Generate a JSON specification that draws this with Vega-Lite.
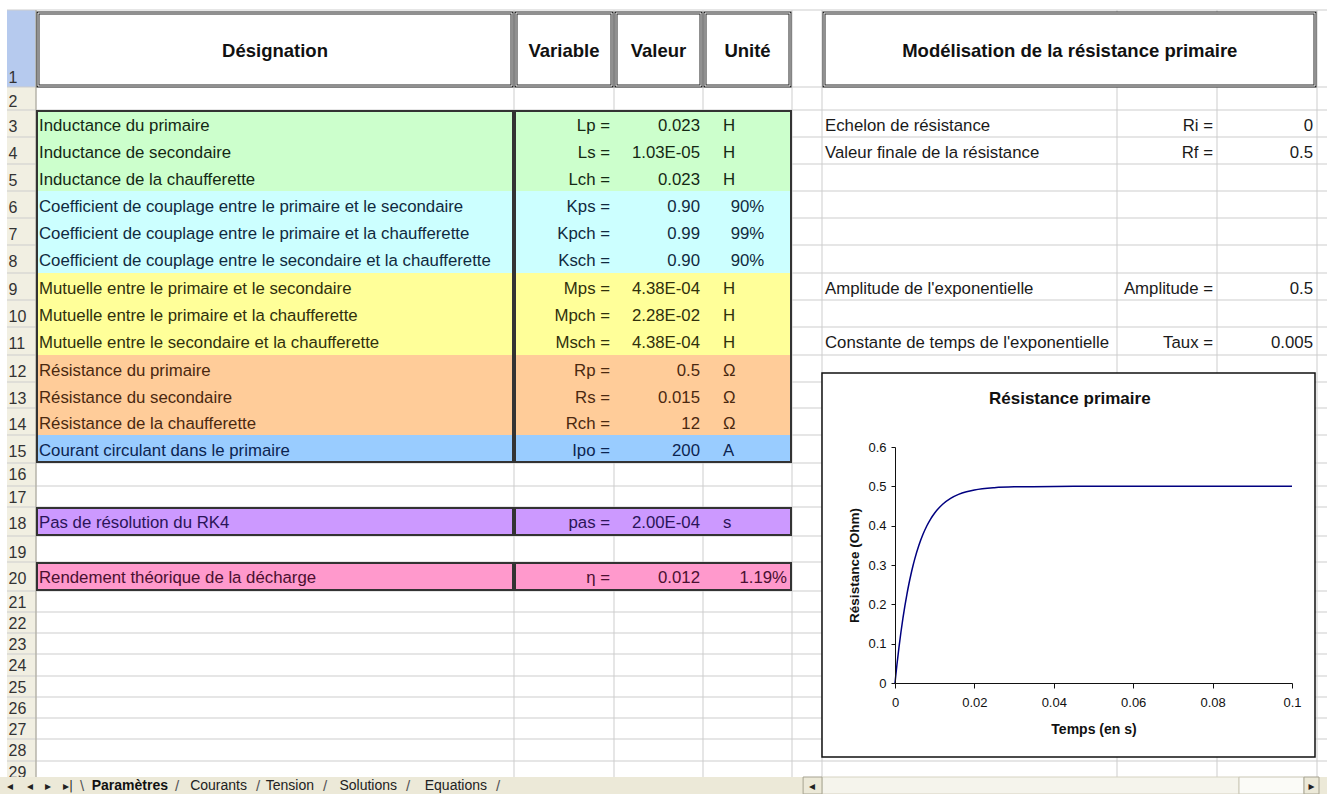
{
"$schema":"https://vega.github.io/schema/vega-lite/v6.json",
"width":1327,"height":794,"autosize":"none","padding":0,"background":"white",
"config":{"view":{"stroke":null},"font":"Liberation Sans"},
"datasets":{
"sheetrows":[{"row":1},{"row":2},{"row":3},{"row":4},{"row":5},{"row":6},{"row":7},{"row":8},{"row":9},{"row":10},{"row":11},{"row":12},{"row":13},{"row":14},{"row":15},{"row":16},{"row":17},{"row":18},{"row":19},{"row":20},{"row":21},{"row":22},{"row":23},{"row":24},{"row":25},{"row":26},{"row":27},{"row":28},{"row":29}],
"columns":[{"c":1,"name":"A"},{"c":2,"name":"B"},{"c":3,"name":"C"},{"c":4,"name":"D"},{"c":5,"name":"E"},{"c":6,"name":"F"},{"c":7,"name":"G"},{"c":8,"name":"H"},{"c":9,"name":"I"}],
"fills":[{"group":"Inductances","top":3,"bottom":6},{"group":"Couplages","top":6,"bottom":9},{"group":"Mutuelles","top":9,"bottom":12},{"group":"Résistances","top":12,"bottom":15},{"group":"Courant","top":15,"bottom":16},{"group":"Pas","top":18,"bottom":19},{"group":"Rendement","top":20,"bottom":21}],
"boxes":[{"c0":1,"c1":2,"top":3,"bottom":16},{"c0":2,"c1":5,"top":3,"bottom":16},{"c0":1,"c1":2,"top":18,"bottom":19},{"c0":2,"c1":5,"top":18,"bottom":19},{"c0":1,"c1":2,"top":20,"bottom":21},{"c0":2,"c1":5,"top":20,"bottom":21}],
"headers":[{"c0":1,"c1":2,"mid":1.5,"text":"Désignation"},{"c0":2,"c1":3,"mid":2.5,"text":"Variable"},{"c0":3,"c1":4,"mid":3.5,"text":"Valeur"},{"c0":4,"c1":5,"mid":4.5,"text":"Unité"},{"c0":6,"c1":9,"mid":6.84,"text":"Modélisation de la résistance primaire"}],
"table":[
{"row":3,"group":"Inductances","designation":"Inductance du primaire","variable":"Lp =","valeur":"0.023","unite":"H"},
{"row":4,"group":"Inductances","designation":"Inductance de secondaire","variable":"Ls =","valeur":"1.03E-05","unite":"H"},
{"row":5,"group":"Inductances","designation":"Inductance de la chaufferette","variable":"Lch =","valeur":"0.023","unite":"H"},
{"row":6,"group":"Couplages","designation":"Coefficient de couplage entre le primaire et le secondaire","variable":"Kps =","valeur":"0.90","pourcentage":"90%"},
{"row":7,"group":"Couplages","designation":"Coefficient de couplage entre le primaire et la chaufferette","variable":"Kpch =","valeur":"0.99","pourcentage":"99%"},
{"row":8,"group":"Couplages","designation":"Coefficient de couplage entre le secondaire et la chaufferette","variable":"Ksch =","valeur":"0.90","pourcentage":"90%"},
{"row":9,"group":"Mutuelles","designation":"Mutuelle entre le primaire et le secondaire","variable":"Mps =","valeur":"4.38E-04","unite":"H"},
{"row":10,"group":"Mutuelles","designation":"Mutuelle entre le primaire et la chaufferette","variable":"Mpch =","valeur":"2.28E-02","unite":"H"},
{"row":11,"group":"Mutuelles","designation":"Mutuelle entre le secondaire et la chaufferette","variable":"Msch =","valeur":"4.38E-04","unite":"H"},
{"row":12,"group":"Résistances","designation":"Résistance du primaire","variable":"Rp =","valeur":"0.5","unite":"Ω"},
{"row":13,"group":"Résistances","designation":"Résistance du secondaire","variable":"Rs =","valeur":"0.015","unite":"Ω"},
{"row":14,"group":"Résistances","designation":"Résistance de la chaufferette","variable":"Rch =","valeur":"12","unite":"Ω"},
{"row":15,"group":"Courant","designation":"Courant circulant dans le primaire","variable":"Ipo =","valeur":"200","unite":"A"},
{"row":18,"group":"Pas","designation":"Pas de résolution du RK4","variable":"pas =","valeur":"2.00E-04","unite":"s"},
{"row":20,"group":"Rendement","designation":"Rendement théorique de la décharge","variable":"η =","valeur":"0.012","pourcentage":"1.19%"}],
"params":[
{"row":3,"label":"Echelon de résistance","variable":"Ri =","valeur":"0"},
{"row":4,"label":"Valeur finale de la résistance","variable":"Rf =","valeur":"0.5"},
{"row":9,"label":"Amplitude de l'exponentielle","variable":"Amplitude =","valeur":"0.5"},
{"row":11,"label":"Constante de temps de l'exponentielle","variable":"Taux =","valeur":"0.005"}],
"curve":[{"t":0,"r":0},{"t":0.0005,"r":0.0476},{"t":0.001,"r":0.0906},{"t":0.0015,"r":0.1296},{"t":0.002,"r":0.1648},{"t":0.0025,"r":0.1967},{"t":0.003,"r":0.2256},{"t":0.0035,"r":0.2517},{"t":0.004,"r":0.2753},{"t":0.0045,"r":0.2967},{"t":0.005,"r":0.3161},{"t":0.006,"r":0.3494},{"t":0.007,"r":0.3767},{"t":0.008,"r":0.3991},{"t":0.009,"r":0.4174},{"t":0.01,"r":0.4323},{"t":0.012,"r":0.4546},{"t":0.014,"r":0.4696},{"t":0.016,"r":0.4796},{"t":0.018,"r":0.4863},{"t":0.02,"r":0.4908},{"t":0.025,"r":0.4966},{"t":0.03,"r":0.4988},{"t":0.04,"r":0.4998},{"t":0.05,"r":0.5},{"t":0.06,"r":0.5},{"t":0.07,"r":0.5},{"t":0.08,"r":0.5},{"t":0.09,"r":0.5},{"t":0.1,"r":0.5}],
"tabs":[{"tab":"Paramètres","order":1,"active":true},{"tab":"Courants","order":2,"active":false},{"tab":"Tension","order":3,"active":false},{"tab":"Solutions","order":4,"active":false},{"tab":"Equations","order":5,"active":false}],
"nav":[{"glyph":"◂","order":-3},{"glyph":"◂","order":-2},{"glyph":"▸","order":-1},{"glyph":"▸|","order":0}],
"one":[{}]
},
"layer":[
{"resolve":{"scale":{"x":"independent"}},
 "layer":[
 {"layer":[
  {"data":{"name":"one"},"mark":{"type":"rect","fill":"#f1efe2"},"encoding":{"x":{"datum":0,"type":"quantitative","scale":{"domain":[0,1,2,3,4,5,6,7,8,9,10],"range":[7,36,514,614,703,792,822,1117,1217,1317,1417],"nice":false,"zero":false},"axis":null},"x2":{"datum":1},"y":{"datum":2,"type":"quantitative","scale":{"domain":[1,2,3,4,5,6,7,8,9,10,11,12,13,14,15,16,17,18,19,20,21,22,23,24,25,26,27,28,29,30,31],"range":[10,87,110,137,164,191,218,245,273,300,327,355,382,408,435,463,486,507,536,562,591,612,633,654,676,697,718,739,761,777,794],"nice":false,"zero":false},"axis":null},"y2":{"datum":30}}},
  {"data":{"name":"one"},"mark":{"type":"rect","fill":"#b6caee"},"encoding":{"x":{"datum":0,"type":"quantitative","scale":{"domain":[0,1,2,3,4,5,6,7,8,9,10],"range":[7,36,514,614,703,792,822,1117,1217,1317,1417],"nice":false,"zero":false},"axis":null},"x2":{"datum":1},"y":{"datum":1,"type":"quantitative","scale":{"domain":[1,2,3,4,5,6,7,8,9,10,11,12,13,14,15,16,17,18,19,20,21,22,23,24,25,26,27,28,29,30,31],"range":[10,87,110,137,164,191,218,245,273,300,327,355,382,408,435,463,486,507,536,562,591,612,633,654,676,697,718,739,761,777,794],"nice":false,"zero":false},"axis":null},"y2":{"datum":2}}},
  {"data":{"name":"sheetrows"},"mark":{"type":"rule","stroke":"#cdcdcd","strokeWidth":1},"encoding":{"x":{"datum":0,"type":"quantitative","scale":{"domain":[0,1,2,3,4,5,6,7,8,9,10],"range":[7,36,514,614,703,792,822,1117,1217,1317,1417],"nice":false,"zero":false},"axis":null},"x2":{"datum":10},"y":{"field":"row","type":"quantitative","scale":{"domain":[1,2,3,4,5,6,7,8,9,10,11,12,13,14,15,16,17,18,19,20,21,22,23,24,25,26,27,28,29,30,31],"range":[10,87,110,137,164,191,218,245,273,300,327,355,382,408,435,463,486,507,536,562,591,612,633,654,676,697,718,739,761,777,794],"nice":false,"zero":false},"axis":null}}},
  {"data":{"name":"columns"},"mark":{"type":"rule","stroke":"#cdcdcd","strokeWidth":1},"encoding":{"x":{"field":"c","type":"quantitative","scale":{"domain":[0,1,2,3,4,5,6,7,8,9,10],"range":[7,36,514,614,703,792,822,1117,1217,1317,1417],"nice":false,"zero":false},"axis":null},"y":{"datum":1,"type":"quantitative","scale":{"domain":[1,2,3,4,5,6,7,8,9,10,11,12,13,14,15,16,17,18,19,20,21,22,23,24,25,26,27,28,29,30,31],"range":[10,87,110,137,164,191,218,245,273,300,327,355,382,408,435,463,486,507,536,562,591,612,633,654,676,697,718,739,761,777,794],"nice":false,"zero":false},"axis":null},"y2":{"datum":30}}},
  {"data":{"name":"one"},"mark":{"type":"rule","stroke":"#a9a697","strokeWidth":1},"encoding":{"x":{"datum":1,"type":"quantitative","scale":{"domain":[0,1,2,3,4,5,6,7,8,9,10],"range":[7,36,514,614,703,792,822,1117,1217,1317,1417],"nice":false,"zero":false},"axis":null},"y":{"datum":1,"type":"quantitative","scale":{"domain":[1,2,3,4,5,6,7,8,9,10,11,12,13,14,15,16,17,18,19,20,21,22,23,24,25,26,27,28,29,30,31],"range":[10,87,110,137,164,191,218,245,273,300,327,355,382,408,435,463,486,507,536,562,591,612,633,654,676,697,718,739,761,777,794],"nice":false,"zero":false},"axis":null},"y2":{"datum":30}}},
  {"data":{"name":"fills"},"mark":{"type":"rect"},"encoding":{"x":{"datum":1,"type":"quantitative","scale":{"domain":[0,1,2,3,4,5,6,7,8,9,10],"range":[7,36,514,614,703,792,822,1117,1217,1317,1417],"nice":false,"zero":false},"axis":null},"x2":{"datum":5},"y":{"field":"top","type":"quantitative","scale":{"domain":[1,2,3,4,5,6,7,8,9,10,11,12,13,14,15,16,17,18,19,20,21,22,23,24,25,26,27,28,29,30,31],"range":[10,87,110,137,164,191,218,245,273,300,327,355,382,408,435,463,486,507,536,562,591,612,633,654,676,697,718,739,761,777,794],"nice":false,"zero":false},"axis":null},"y2":{"field":"bottom"},"fill":{"field":"group","type":"nominal","scale":{"domain":["Inductances","Couplages","Mutuelles","Résistances","Courant","Pas","Rendement"],"range":["#ccffcc","#ccffff","#ffff99","#ffcc99","#99ccff","#cc99ff","#ff99cc"]},"legend":null}}},
  {"data":{"name":"headers"},"mark":{"type":"rect","fill":"white","stroke":"#222222","strokeWidth":3,"xOffset":2,"x2Offset":-2,"yOffset":3,"y2Offset":-1},"encoding":{"x":{"field":"c0","type":"quantitative","scale":{"domain":[0,1,2,3,4,5,6,7,8,9,10],"range":[7,36,514,614,703,792,822,1117,1217,1317,1417],"nice":false,"zero":false},"axis":null},"x2":{"field":"c1"},"y":{"datum":1,"type":"quantitative","scale":{"domain":[1,2,3,4,5,6,7,8,9,10,11,12,13,14,15,16,17,18,19,20,21,22,23,24,25,26,27,28,29,30,31],"range":[10,87,110,137,164,191,218,245,273,300,327,355,382,408,435,463,486,507,536,562,591,612,633,654,676,697,718,739,761,777,794],"nice":false,"zero":false},"axis":null},"y2":{"datum":2}}},
  {"data":{"name":"headers"},"mark":{"type":"rect","fill":"transparent","stroke":"white","strokeWidth":1,"xOffset":2,"x2Offset":-2,"yOffset":3,"y2Offset":-1},"encoding":{"x":{"field":"c0","type":"quantitative","scale":{"domain":[0,1,2,3,4,5,6,7,8,9,10],"range":[7,36,514,614,703,792,822,1117,1217,1317,1417],"nice":false,"zero":false},"axis":null},"x2":{"field":"c1"},"y":{"datum":1,"type":"quantitative","scale":{"domain":[1,2,3,4,5,6,7,8,9,10,11,12,13,14,15,16,17,18,19,20,21,22,23,24,25,26,27,28,29,30,31],"range":[10,87,110,137,164,191,218,245,273,300,327,355,382,408,435,463,486,507,536,562,591,612,633,654,676,697,718,739,761,777,794],"nice":false,"zero":false},"axis":null},"y2":{"datum":2}}},
  {"data":{"name":"boxes"},"mark":{"type":"rect","fill":"transparent","stroke":"#333333","strokeWidth":2,"xOffset":1,"x2Offset":-1,"yOffset":1,"y2Offset":-1},"encoding":{"x":{"field":"c0","type":"quantitative","scale":{"domain":[0,1,2,3,4,5,6,7,8,9,10],"range":[7,36,514,614,703,792,822,1117,1217,1317,1417],"nice":false,"zero":false},"axis":null},"x2":{"field":"c1"},"y":{"field":"top","type":"quantitative","scale":{"domain":[1,2,3,4,5,6,7,8,9,10,11,12,13,14,15,16,17,18,19,20,21,22,23,24,25,26,27,28,29,30,31],"range":[10,87,110,137,164,191,218,245,273,300,327,355,382,408,435,463,486,507,536,562,591,612,633,654,676,697,718,739,761,777,794],"nice":false,"zero":false},"axis":null},"y2":{"field":"bottom"}}},
  {"data":{"name":"headers"},"mark":{"type":"text","align":"center","baseline":"middle","dy":2,"fontSize":18.5,"fontWeight":"bold","color":"#111111"},"encoding":{"x":{"field":"mid","type":"quantitative","scale":{"domain":[0,1,2,3,4,5,6,7,8,9,10],"range":[7,36,514,614,703,792,822,1117,1217,1317,1417],"nice":false,"zero":false},"axis":null},"y":{"datum":1.5,"type":"quantitative","scale":{"domain":[1,2,3,4,5,6,7,8,9,10,11,12,13,14,15,16,17,18,19,20,21,22,23,24,25,26,27,28,29,30,31],"range":[10,87,110,137,164,191,218,245,273,300,327,355,382,408,435,463,486,507,536,562,591,612,633,654,676,697,718,739,761,777,794],"nice":false,"zero":false},"axis":null},"text":{"field":"text"}}},
  {"data":{"name":"table"},"mark":{"type":"text","align":"left","baseline":"alphabetic","dx":3,"dy":21,"fontSize":16.8},"encoding":{"x":{"datum":1,"type":"quantitative","scale":{"domain":[0,1,2,3,4,5,6,7,8,9,10],"range":[7,36,514,614,703,792,822,1117,1217,1317,1417],"nice":false,"zero":false},"axis":null},"y":{"field":"row","type":"quantitative","scale":{"domain":[1,2,3,4,5,6,7,8,9,10,11,12,13,14,15,16,17,18,19,20,21,22,23,24,25,26,27,28,29,30,31],"range":[10,87,110,137,164,191,218,245,273,300,327,355,382,408,435,463,486,507,536,562,591,612,633,654,676,697,718,739,761,777,794],"nice":false,"zero":false},"axis":null},"text":{"field":"designation"},"color":{"field":"group","type":"nominal","scale":{"domain":["Inductances","Couplages","Mutuelles","Résistances","Courant","Pas","Rendement"],"range":["#142814","#102a40","#30300c","#4a2810","#0c2450","#2a1458","#4a1030"]},"legend":null}}},
  {"data":{"name":"table"},"mark":{"type":"text","align":"right","baseline":"alphabetic","dx":-4,"dy":21,"fontSize":16.8},"encoding":{"x":{"datum":3,"type":"quantitative","scale":{"domain":[0,1,2,3,4,5,6,7,8,9,10],"range":[7,36,514,614,703,792,822,1117,1217,1317,1417],"nice":false,"zero":false},"axis":null},"y":{"field":"row","type":"quantitative","scale":{"domain":[1,2,3,4,5,6,7,8,9,10,11,12,13,14,15,16,17,18,19,20,21,22,23,24,25,26,27,28,29,30,31],"range":[10,87,110,137,164,191,218,245,273,300,327,355,382,408,435,463,486,507,536,562,591,612,633,654,676,697,718,739,761,777,794],"nice":false,"zero":false},"axis":null},"text":{"field":"variable"},"color":{"field":"group","type":"nominal","scale":{"domain":["Inductances","Couplages","Mutuelles","Résistances","Courant","Pas","Rendement"],"range":["#142814","#102a40","#30300c","#4a2810","#0c2450","#2a1458","#4a1030"]},"legend":null}}},
  {"data":{"name":"table"},"mark":{"type":"text","align":"right","baseline":"alphabetic","dx":-3,"dy":21,"fontSize":16.8},"encoding":{"x":{"datum":4,"type":"quantitative","scale":{"domain":[0,1,2,3,4,5,6,7,8,9,10],"range":[7,36,514,614,703,792,822,1117,1217,1317,1417],"nice":false,"zero":false},"axis":null},"y":{"field":"row","type":"quantitative","scale":{"domain":[1,2,3,4,5,6,7,8,9,10,11,12,13,14,15,16,17,18,19,20,21,22,23,24,25,26,27,28,29,30,31],"range":[10,87,110,137,164,191,218,245,273,300,327,355,382,408,435,463,486,507,536,562,591,612,633,654,676,697,718,739,761,777,794],"nice":false,"zero":false},"axis":null},"text":{"field":"valeur"},"color":{"field":"group","type":"nominal","scale":{"domain":["Inductances","Couplages","Mutuelles","Résistances","Courant","Pas","Rendement"],"range":["#142814","#102a40","#30300c","#4a2810","#0c2450","#2a1458","#4a1030"]},"legend":null}}},
  {"data":{"name":"table"},"transform":[{"filter":"isValid(datum.unite)"}],"mark":{"type":"text","align":"left","baseline":"alphabetic","dx":20,"dy":21,"fontSize":16.8},"encoding":{"x":{"datum":4,"type":"quantitative","scale":{"domain":[0,1,2,3,4,5,6,7,8,9,10],"range":[7,36,514,614,703,792,822,1117,1217,1317,1417],"nice":false,"zero":false},"axis":null},"y":{"field":"row","type":"quantitative","scale":{"domain":[1,2,3,4,5,6,7,8,9,10,11,12,13,14,15,16,17,18,19,20,21,22,23,24,25,26,27,28,29,30,31],"range":[10,87,110,137,164,191,218,245,273,300,327,355,382,408,435,463,486,507,536,562,591,612,633,654,676,697,718,739,761,777,794],"nice":false,"zero":false},"axis":null},"text":{"field":"unite"},"color":{"field":"group","type":"nominal","scale":{"domain":["Inductances","Couplages","Mutuelles","Résistances","Courant","Pas","Rendement"],"range":["#142814","#102a40","#30300c","#4a2810","#0c2450","#2a1458","#4a1030"]},"legend":null}}},
  {"data":{"name":"table"},"transform":[{"filter":"isValid(datum.pourcentage) && datum.row < 20"}],"mark":{"type":"text","align":"center","baseline":"alphabetic","dy":21,"fontSize":16.8},"encoding":{"x":{"datum":4.5,"type":"quantitative","scale":{"domain":[0,1,2,3,4,5,6,7,8,9,10],"range":[7,36,514,614,703,792,822,1117,1217,1317,1417],"nice":false,"zero":false},"axis":null},"y":{"field":"row","type":"quantitative","scale":{"domain":[1,2,3,4,5,6,7,8,9,10,11,12,13,14,15,16,17,18,19,20,21,22,23,24,25,26,27,28,29,30,31],"range":[10,87,110,137,164,191,218,245,273,300,327,355,382,408,435,463,486,507,536,562,591,612,633,654,676,697,718,739,761,777,794],"nice":false,"zero":false},"axis":null},"text":{"field":"pourcentage"},"color":{"field":"group","type":"nominal","scale":{"domain":["Inductances","Couplages","Mutuelles","Résistances","Courant","Pas","Rendement"],"range":["#142814","#102a40","#30300c","#4a2810","#0c2450","#2a1458","#4a1030"]},"legend":null}}},
  {"data":{"name":"table"},"transform":[{"filter":"isValid(datum.pourcentage) && datum.row >= 20"}],"mark":{"type":"text","align":"right","baseline":"alphabetic","dx":-5,"dy":21,"fontSize":16.8},"encoding":{"x":{"datum":5,"type":"quantitative","scale":{"domain":[0,1,2,3,4,5,6,7,8,9,10],"range":[7,36,514,614,703,792,822,1117,1217,1317,1417],"nice":false,"zero":false},"axis":null},"y":{"field":"row","type":"quantitative","scale":{"domain":[1,2,3,4,5,6,7,8,9,10,11,12,13,14,15,16,17,18,19,20,21,22,23,24,25,26,27,28,29,30,31],"range":[10,87,110,137,164,191,218,245,273,300,327,355,382,408,435,463,486,507,536,562,591,612,633,654,676,697,718,739,761,777,794],"nice":false,"zero":false},"axis":null},"text":{"field":"pourcentage"},"color":{"field":"group","type":"nominal","scale":{"domain":["Inductances","Couplages","Mutuelles","Résistances","Courant","Pas","Rendement"],"range":["#142814","#102a40","#30300c","#4a2810","#0c2450","#2a1458","#4a1030"]},"legend":null}}},
  {"data":{"name":"params"},"mark":{"type":"text","align":"left","baseline":"alphabetic","dx":3,"dy":21,"fontSize":16.8,"color":"#1a1a1a"},"encoding":{"x":{"datum":6,"type":"quantitative","scale":{"domain":[0,1,2,3,4,5,6,7,8,9,10],"range":[7,36,514,614,703,792,822,1117,1217,1317,1417],"nice":false,"zero":false},"axis":null},"y":{"field":"row","type":"quantitative","scale":{"domain":[1,2,3,4,5,6,7,8,9,10,11,12,13,14,15,16,17,18,19,20,21,22,23,24,25,26,27,28,29,30,31],"range":[10,87,110,137,164,191,218,245,273,300,327,355,382,408,435,463,486,507,536,562,591,612,633,654,676,697,718,739,761,777,794],"nice":false,"zero":false},"axis":null},"text":{"field":"label"}}},
  {"data":{"name":"params"},"mark":{"type":"text","align":"right","baseline":"alphabetic","dx":-4,"dy":21,"fontSize":16.8,"color":"#1a1a1a"},"encoding":{"x":{"datum":8,"type":"quantitative","scale":{"domain":[0,1,2,3,4,5,6,7,8,9,10],"range":[7,36,514,614,703,792,822,1117,1217,1317,1417],"nice":false,"zero":false},"axis":null},"y":{"field":"row","type":"quantitative","scale":{"domain":[1,2,3,4,5,6,7,8,9,10,11,12,13,14,15,16,17,18,19,20,21,22,23,24,25,26,27,28,29,30,31],"range":[10,87,110,137,164,191,218,245,273,300,327,355,382,408,435,463,486,507,536,562,591,612,633,654,676,697,718,739,761,777,794],"nice":false,"zero":false},"axis":null},"text":{"field":"variable"}}},
  {"data":{"name":"params"},"mark":{"type":"text","align":"right","baseline":"alphabetic","dx":-4,"dy":21,"fontSize":16.8,"color":"#1a1a1a"},"encoding":{"x":{"datum":9,"type":"quantitative","scale":{"domain":[0,1,2,3,4,5,6,7,8,9,10],"range":[7,36,514,614,703,792,822,1117,1217,1317,1417],"nice":false,"zero":false},"axis":null},"y":{"field":"row","type":"quantitative","scale":{"domain":[1,2,3,4,5,6,7,8,9,10,11,12,13,14,15,16,17,18,19,20,21,22,23,24,25,26,27,28,29,30,31],"range":[10,87,110,137,164,191,218,245,273,300,327,355,382,408,435,463,486,507,536,562,591,612,633,654,676,697,718,739,761,777,794],"nice":false,"zero":false},"axis":null},"text":{"field":"valeur"}}},
  {"data":{"name":"sheetrows"},"transform":[{"filter":"datum.row == 1"}],"mark":{"type":"text","align":"left","baseline":"alphabetic","dx":1.5,"dy":-4,"fontSize":16,"color":"#333333"},"encoding":{"x":{"datum":0,"type":"quantitative","scale":{"domain":[0,1,2,3,4,5,6,7,8,9,10],"range":[7,36,514,614,703,792,822,1117,1217,1317,1417],"nice":false,"zero":false},"axis":null},"y":{"datum":2,"type":"quantitative","scale":{"domain":[1,2,3,4,5,6,7,8,9,10,11,12,13,14,15,16,17,18,19,20,21,22,23,24,25,26,27,28,29,30,31],"range":[10,87,110,137,164,191,218,245,273,300,327,355,382,408,435,463,486,507,536,562,591,612,633,654,676,697,718,739,761,777,794],"nice":false,"zero":false},"axis":null},"text":{"field":"row"}}},
  {"data":{"name":"sheetrows"},"transform":[{"filter":"datum.row == 2"}],"mark":{"type":"text","align":"left","baseline":"alphabetic","dx":1.5,"dy":20,"fontSize":16,"color":"#333333"},"encoding":{"x":{"datum":0,"type":"quantitative","scale":{"domain":[0,1,2,3,4,5,6,7,8,9,10],"range":[7,36,514,614,703,792,822,1117,1217,1317,1417],"nice":false,"zero":false},"axis":null},"y":{"field":"row","type":"quantitative","scale":{"domain":[1,2,3,4,5,6,7,8,9,10,11,12,13,14,15,16,17,18,19,20,21,22,23,24,25,26,27,28,29,30,31],"range":[10,87,110,137,164,191,218,245,273,300,327,355,382,408,435,463,486,507,536,562,591,612,633,654,676,697,718,739,761,777,794],"nice":false,"zero":false},"axis":null},"text":{"field":"row"}}},
  {"data":{"name":"sheetrows"},"transform":[{"filter":"(datum.row >= 3 && datum.row <= 15) || (datum.row >= 18 && datum.row <= 20)"}],"mark":{"type":"text","align":"left","baseline":"alphabetic","dx":1.5,"dy":22,"fontSize":16,"color":"#333333"},"encoding":{"x":{"datum":0,"type":"quantitative","scale":{"domain":[0,1,2,3,4,5,6,7,8,9,10],"range":[7,36,514,614,703,792,822,1117,1217,1317,1417],"nice":false,"zero":false},"axis":null},"y":{"field":"row","type":"quantitative","scale":{"domain":[1,2,3,4,5,6,7,8,9,10,11,12,13,14,15,16,17,18,19,20,21,22,23,24,25,26,27,28,29,30,31],"range":[10,87,110,137,164,191,218,245,273,300,327,355,382,408,435,463,486,507,536,562,591,612,633,654,676,697,718,739,761,777,794],"nice":false,"zero":false},"axis":null},"text":{"field":"row"}}},
  {"data":{"name":"sheetrows"},"transform":[{"filter":"datum.row == 16 || datum.row == 17 || datum.row >= 21"}],"mark":{"type":"text","align":"left","baseline":"alphabetic","dx":1.5,"dy":17,"fontSize":16,"color":"#333333"},"encoding":{"x":{"datum":0,"type":"quantitative","scale":{"domain":[0,1,2,3,4,5,6,7,8,9,10],"range":[7,36,514,614,703,792,822,1117,1217,1317,1417],"nice":false,"zero":false},"axis":null},"y":{"field":"row","type":"quantitative","scale":{"domain":[1,2,3,4,5,6,7,8,9,10,11,12,13,14,15,16,17,18,19,20,21,22,23,24,25,26,27,28,29,30,31],"range":[10,87,110,137,164,191,218,245,273,300,327,355,382,408,435,463,486,507,536,562,591,612,633,654,676,697,718,739,761,777,794],"nice":false,"zero":false},"axis":null},"text":{"field":"row"}}},
  {"data":{"name":"one"},"mark":{"type":"rect","fill":"white","stroke":"#111111","strokeWidth":1.5},"encoding":{"x":{"datum":6,"type":"quantitative","scale":{"domain":[0,1,2,3,4,5,6,7,8,9,10],"range":[7,36,514,614,703,792,822,1117,1217,1317,1417],"nice":false,"zero":false},"axis":null},"x2":{"datum":8.98},"y":{"datum":12.67,"type":"quantitative","scale":{"domain":[1,2,3,4,5,6,7,8,9,10,11,12,13,14,15,16,17,18,19,20,21,22,23,24,25,26,27,28,29,30,31],"range":[10,87,110,137,164,191,218,245,273,300,327,355,382,408,435,463,486,507,536,562,591,612,633,654,676,697,718,739,761,777,794],"nice":false,"zero":false},"axis":null},"y2":{"datum":28.82}}},
  {"data":{"name":"one"},"mark":{"type":"text","align":"center","baseline":"middle","fontSize":17,"fontWeight":"bold","color":"#111111","text":"Résistance primaire"},"encoding":{"x":{"datum":6.84,"type":"quantitative","scale":{"domain":[0,1,2,3,4,5,6,7,8,9,10],"range":[7,36,514,614,703,792,822,1117,1217,1317,1417],"nice":false,"zero":false},"axis":null},"y":{"datum":13.65,"type":"quantitative","scale":{"domain":[1,2,3,4,5,6,7,8,9,10,11,12,13,14,15,16,17,18,19,20,21,22,23,24,25,26,27,28,29,30,31],"range":[10,87,110,137,164,191,218,245,273,300,327,355,382,408,435,463,486,507,536,562,591,612,633,654,676,697,718,739,761,777,794],"nice":false,"zero":false},"axis":null}}},
  {"data":{"name":"one"},"mark":{"type":"rect","fill":"#ece9d8"},"encoding":{"x":{"datum":-0.25,"type":"quantitative","scale":{"domain":[0,1,2,3,4,5,6,7,8,9,10],"range":[7,36,514,614,703,792,822,1117,1217,1317,1417],"nice":false,"zero":false},"axis":null},"x2":{"datum":10},"y":{"datum":30,"type":"quantitative","scale":{"domain":[1,2,3,4,5,6,7,8,9,10,11,12,13,14,15,16,17,18,19,20,21,22,23,24,25,26,27,28,29,30,31],"range":[10,87,110,137,164,191,218,245,273,300,327,355,382,408,435,463,486,507,536,562,591,612,633,654,676,697,718,739,761,777,794],"nice":false,"zero":false},"axis":null},"y2":{"datum":31}}},
  {"data":{"name":"one"},"mark":{"type":"rect","fill":"#f5f4ec","stroke":"#d6d3c2","strokeWidth":1},"encoding":{"x":{"datum":6,"type":"quantitative","scale":{"domain":[0,1,2,3,4,5,6,7,8,9,10],"range":[7,36,514,614,703,792,822,1117,1217,1317,1417],"nice":false,"zero":false},"axis":null},"x2":{"datum":8.22},"y":{"datum":30,"type":"quantitative","scale":{"domain":[1,2,3,4,5,6,7,8,9,10,11,12,13,14,15,16,17,18,19,20,21,22,23,24,25,26,27,28,29,30,31],"range":[10,87,110,137,164,191,218,245,273,300,327,355,382,408,435,463,486,507,536,562,591,612,633,654,676,697,718,739,761,777,794],"nice":false,"zero":false},"axis":null},"y2":{"datum":31}}},
  {"data":{"name":"one"},"mark":{"type":"rect","fill":"#fbfbf7","stroke":"#c9c6b5","strokeWidth":1},"encoding":{"x":{"datum":8.22,"type":"quantitative","scale":{"domain":[0,1,2,3,4,5,6,7,8,9,10],"range":[7,36,514,614,703,792,822,1117,1217,1317,1417],"nice":false,"zero":false},"axis":null},"x2":{"datum":8.87},"y":{"datum":30,"type":"quantitative","scale":{"domain":[1,2,3,4,5,6,7,8,9,10,11,12,13,14,15,16,17,18,19,20,21,22,23,24,25,26,27,28,29,30,31],"range":[10,87,110,137,164,191,218,245,273,300,327,355,382,408,435,463,486,507,536,562,591,612,633,654,676,697,718,739,761,777,794],"nice":false,"zero":false},"axis":null},"y2":{"datum":31}}},
  {"data":{"name":"one"},"mark":{"type":"rect","fill":"#ece9d8","stroke":"#a6a391","strokeWidth":1},"encoding":{"x":{"datum":5.37,"type":"quantitative","scale":{"domain":[0,1,2,3,4,5,6,7,8,9,10],"range":[7,36,514,614,703,792,822,1117,1217,1317,1417],"nice":false,"zero":false},"axis":null},"x2":{"datum":6},"y":{"datum":30,"type":"quantitative","scale":{"domain":[1,2,3,4,5,6,7,8,9,10,11,12,13,14,15,16,17,18,19,20,21,22,23,24,25,26,27,28,29,30,31],"range":[10,87,110,137,164,191,218,245,273,300,327,355,382,408,435,463,486,507,536,562,591,612,633,654,676,697,718,739,761,777,794],"nice":false,"zero":false},"axis":null},"y2":{"datum":31}}},
  {"data":{"name":"one"},"mark":{"type":"rect","fill":"#ece9d8","stroke":"#a6a391","strokeWidth":1},"encoding":{"x":{"datum":8.87,"type":"quantitative","scale":{"domain":[0,1,2,3,4,5,6,7,8,9,10],"range":[7,36,514,614,703,792,822,1117,1217,1317,1417],"nice":false,"zero":false},"axis":null},"x2":{"datum":9.02},"y":{"datum":30,"type":"quantitative","scale":{"domain":[1,2,3,4,5,6,7,8,9,10,11,12,13,14,15,16,17,18,19,20,21,22,23,24,25,26,27,28,29,30,31],"range":[10,87,110,137,164,191,218,245,273,300,327,355,382,408,435,463,486,507,536,562,591,612,633,654,676,697,718,739,761,777,794],"nice":false,"zero":false},"axis":null},"y2":{"datum":31}}},
  {"data":{"name":"one"},"mark":{"type":"text","align":"center","baseline":"middle","dy":8.5,"fontSize":12,"font":"DejaVu Sans","color":"#222222","text":"◂"},"encoding":{"x":{"datum":5.67,"type":"quantitative","scale":{"domain":[0,1,2,3,4,5,6,7,8,9,10],"range":[7,36,514,614,703,792,822,1117,1217,1317,1417],"nice":false,"zero":false},"axis":null},"y":{"datum":30,"type":"quantitative","scale":{"domain":[1,2,3,4,5,6,7,8,9,10,11,12,13,14,15,16,17,18,19,20,21,22,23,24,25,26,27,28,29,30,31],"range":[10,87,110,137,164,191,218,245,273,300,327,355,382,408,435,463,486,507,536,562,591,612,633,654,676,697,718,739,761,777,794],"nice":false,"zero":false},"axis":null}}},
  {"data":{"name":"one"},"mark":{"type":"text","align":"center","baseline":"middle","dy":8.5,"fontSize":12,"font":"DejaVu Sans","color":"#222222","text":"▸"},"encoding":{"x":{"datum":8.945,"type":"quantitative","scale":{"domain":[0,1,2,3,4,5,6,7,8,9,10],"range":[7,36,514,614,703,792,822,1117,1217,1317,1417],"nice":false,"zero":false},"axis":null},"y":{"datum":30,"type":"quantitative","scale":{"domain":[1,2,3,4,5,6,7,8,9,10,11,12,13,14,15,16,17,18,19,20,21,22,23,24,25,26,27,28,29,30,31],"range":[10,87,110,137,164,191,218,245,273,300,327,355,382,408,435,463,486,507,536,562,591,612,633,654,676,697,718,739,761,777,794],"nice":false,"zero":false},"axis":null}}}
 ]},
 {"layer":[
  {"data":{"name":"nav"},"mark":{"type":"text","align":"center","baseline":"middle","dy":8.5,"fontSize":12,"font":"DejaVu Sans","color":"#222222"},"encoding":{"x":{"field":"order","type":"quantitative","scale":{"domain":[-3,-2,-1,0,1,2,3,4,5],"range":[10,30,48,68,177,258,325,408,498],"nice":false,"zero":false},"axis":null},"y":{"datum":30,"type":"quantitative","scale":{"domain":[1,2,3,4,5,6,7,8,9,10,11,12,13,14,15,16,17,18,19,20,21,22,23,24,25,26,27,28,29,30,31],"range":[10,87,110,137,164,191,218,245,273,300,327,355,382,408,435,463,486,507,536,562,591,612,633,654,676,697,718,739,761,777,794],"nice":false,"zero":false},"axis":null},"text":{"field":"glyph"}}},
  {"data":{"name":"tabs"},"transform":[{"filter":"datum.active"}],"mark":{"type":"text","align":"right","baseline":"middle","dx":-9,"dy":8.5,"fontSize":14,"fontWeight":"bold","color":"#111111"},"encoding":{"x":{"field":"order","type":"quantitative","scale":{"domain":[-3,-2,-1,0,1,2,3,4,5],"range":[10,30,48,68,177,258,325,408,498],"nice":false,"zero":false},"axis":null},"y":{"datum":30,"type":"quantitative","scale":{"domain":[1,2,3,4,5,6,7,8,9,10,11,12,13,14,15,16,17,18,19,20,21,22,23,24,25,26,27,28,29,30,31],"range":[10,87,110,137,164,191,218,245,273,300,327,355,382,408,435,463,486,507,536,562,591,612,633,654,676,697,718,739,761,777,794],"nice":false,"zero":false},"axis":null},"text":{"field":"tab"}}},
  {"data":{"name":"tabs"},"transform":[{"filter":"!datum.active"}],"mark":{"type":"text","align":"right","baseline":"middle","dx":-11,"dy":8.5,"fontSize":14,"color":"#222222"},"encoding":{"x":{"field":"order","type":"quantitative","scale":{"domain":[-3,-2,-1,0,1,2,3,4,5],"range":[10,30,48,68,177,258,325,408,498],"nice":false,"zero":false},"axis":null},"y":{"datum":30,"type":"quantitative","scale":{"domain":[1,2,3,4,5,6,7,8,9,10,11,12,13,14,15,16,17,18,19,20,21,22,23,24,25,26,27,28,29,30,31],"range":[10,87,110,137,164,191,218,245,273,300,327,355,382,408,435,463,486,507,536,562,591,612,633,654,676,697,718,739,761,777,794],"nice":false,"zero":false},"axis":null},"text":{"field":"tab"}}},
  {"data":{"name":"tabs"},"mark":{"type":"text","align":"center","baseline":"middle","dy":8.5,"fontSize":15,"color":"#555555","text":"/"},"encoding":{"x":{"field":"order","type":"quantitative","scale":{"domain":[-3,-2,-1,0,1,2,3,4,5],"range":[10,30,48,68,177,258,325,408,498],"nice":false,"zero":false},"axis":null},"y":{"datum":30,"type":"quantitative","scale":{"domain":[1,2,3,4,5,6,7,8,9,10,11,12,13,14,15,16,17,18,19,20,21,22,23,24,25,26,27,28,29,30,31],"range":[10,87,110,137,164,191,218,245,273,300,327,355,382,408,435,463,486,507,536,562,591,612,633,654,676,697,718,739,761,777,794],"nice":false,"zero":false},"axis":null}}},
  {"data":{"name":"tabs"},"transform":[{"filter":"datum.active"}],"mark":{"type":"text","align":"center","baseline":"middle","dx":-95,"dy":8.5,"fontSize":15,"color":"#555555","text":"\\"},"encoding":{"x":{"field":"order","type":"quantitative","scale":{"domain":[-3,-2,-1,0,1,2,3,4,5],"range":[10,30,48,68,177,258,325,408,498],"nice":false,"zero":false},"axis":null},"y":{"datum":30,"type":"quantitative","scale":{"domain":[1,2,3,4,5,6,7,8,9,10,11,12,13,14,15,16,17,18,19,20,21,22,23,24,25,26,27,28,29,30,31],"range":[10,87,110,137,164,191,218,245,273,300,327,355,382,408,435,463,486,507,536,562,591,612,633,654,676,697,718,739,761,777,794],"nice":false,"zero":false},"axis":null}}}
 ]}
]},
{"data":{"name":"curve"},"mark":{"type":"line","color":"#000080","strokeWidth":1.5,"interpolate":"monotone"},
 "encoding":{
  "x":{"field":"t","type":"quantitative","scale":{"domain":[0,0.1],"range":[895,1292],"nice":false,"zero":false},
   "axis":{"orient":"bottom","offset":-111,"values":[0,0.02,0.04,0.06,0.08,0.1],"format":"~g","grid":false,"domainColor":"#111111","tickColor":"#111111","tickSize":5,"labelFontSize":13,"labelColor":"#111111","labelPadding":8,"labelFlush":false,"labelOverlap":false,"title":"Temps (en s)","titleFontSize":14,"titleFontWeight":"bold","titleColor":"#111111","titlePadding":13,"zindex":1}},
  "y":{"field":"r","type":"quantitative","scale":{"domain":[0,0.6],"range":[683,447],"nice":false,"zero":false},
   "axis":{"orient":"left","offset":-895,"values":[0,0.1,0.2,0.3,0.4,0.5,0.6],"format":"~g","grid":false,"domainColor":"#111111","tickColor":"#111111","tickSize":4,"labelFontSize":13,"labelColor":"#111111","labelPadding":5,"labelFlush":false,"labelOverlap":false,"title":"Résistance (Ohm)","titleFontSize":13.5,"titleFontWeight":"bold","titleColor":"#111111","titlePadding":6,"zindex":1}}
 }}
],
"resolve":{"scale":{"x":"independent","y":"independent"}}
}
